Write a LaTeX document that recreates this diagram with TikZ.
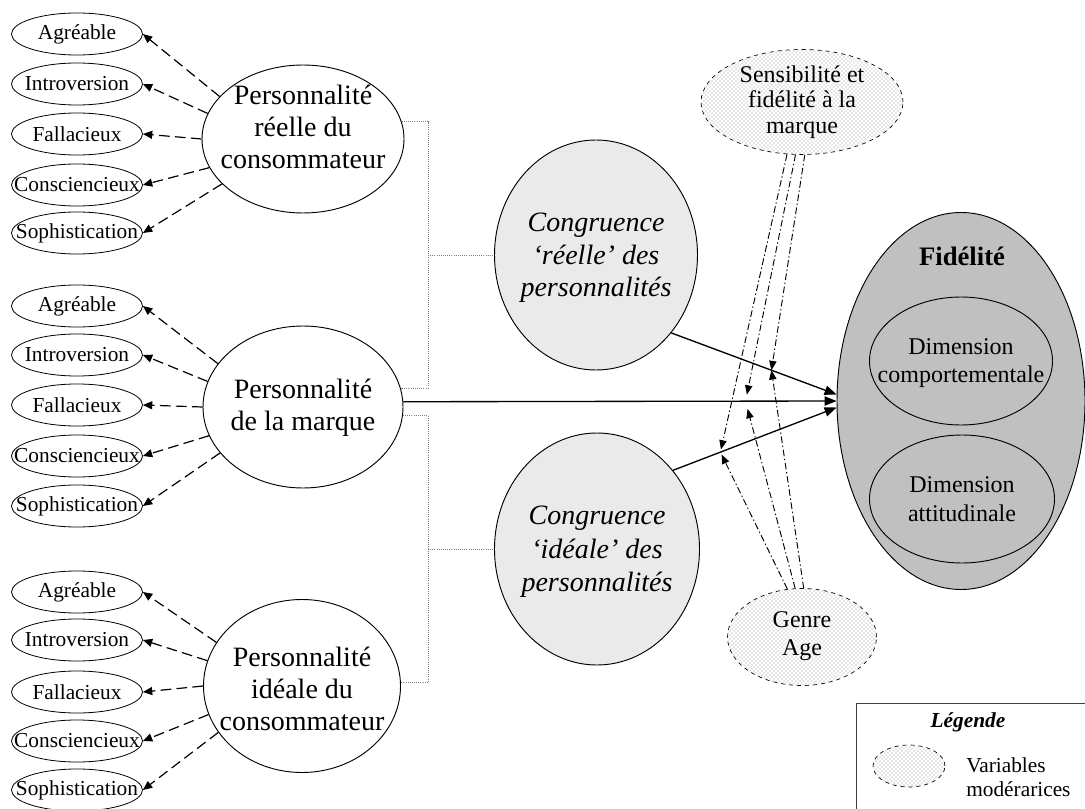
\documentclass[tikz,border=0pt]{standalone}
\usepackage{fontspec}
\setmainfont{Liberation Serif}
\usetikzlibrary{shapes.geometric,arrows.meta,patterns}
\newcommand{\pxx}[1]{#1*0.75pt}
\definecolor{cfill}{HTML}{EAEAEA}
\definecolor{ffill}{HTML}{C0C0C0}
\begin{document}
\begin{tikzpicture}[x=0.75pt,y=-0.75pt,
 small/.style={ellipse,draw,line width=0.6pt,inner sep=0pt,minimum width=\pxx{131},minimum height=\pxx{42}},
 stxt/.style={font=\fontsize{16}{18}\selectfont,inner sep=0pt},
 big/.style={ellipse,draw,line width=0.7pt,inner sep=0pt},
 btxt/.style={font=\fontsize{21}{24}\selectfont,align=center,inner sep=0pt},
 dtxt/.style={font=\fontsize{18}{21.5}\selectfont,align=center,inner sep=0pt},
 mtxt/.style={font=\fontsize{18}{19}\selectfont,align=center,inner sep=0pt},
 darr/.style={line width=0.9pt,dash pattern=on 8pt off 4pt,-{Triangle[length=7pt,width=6pt]}},
 solidarr/.style={line width=1pt,-{Triangle[length=9pt,width=7pt]}},
 brk/.style={gray,line width=0.6pt,densely dotted},
 modarr/.style={line width=0.7pt,dash pattern=on 5pt off 2pt on 1pt off 2pt,-{Triangle[length=7pt,width=5.5pt]}},
 mod/.style={ellipse,draw,dashed,line width=0.5pt,pattern=crosshatch dots,pattern color=gray!80,inner sep=0pt},
]
\useasboundingbox (0,0) rectangle (1085,809);

% Fidelite
\node[big,fill=ffill,minimum width=\pxx{248},minimum height=\pxx{377}] (fid) at (961,401) {};
\node[font=\fontsize{20}{24}\selectfont\bfseries,inner sep=0pt] (fidt) at (962,256) {Fidélité};
\node[big,fill=ffill,minimum width=\pxx{183},minimum height=\pxx{128}] (dc) at (961,361) {};
\node[dtxt] (dct) at (961,363) {Dimension\\comportementale};
\node[big,fill=ffill,minimum width=\pxx{185},minimum height=\pxx{128}] (da) at (962,499) {};
\node[dtxt] (dat) at (962,499) {Dimension\\attitudinale};

% big personality ellipses
\node[big,minimum width=\pxx{202},minimum height=\pxx{148}] (p1) at (303,139) {};
\node[btxt] (p1t) at (303,127) {Personnalité\\réelle du\\consommateur};
\node[big,minimum width=\pxx{200},minimum height=\pxx{162}] (p2) at (303,407) {};
\node[btxt] (p2t) at (303,408) {Personnalité\\de la marque};
\node[big,minimum width=\pxx{197},minimum height=\pxx{173}] (p3) at (302,686) {};
\node[btxt] (p3t) at (302,689) {Personnalité\\idéale du\\consommateur};

% congruence
\node[big,fill=cfill,minimum width=\pxx{203},minimum height=\pxx{230}] (cr) at (596,255) {};
\node[btxt,font=\fontsize{21}{24.5}\selectfont\itshape] (crt) at (596,258) {Congruence\\‘réelle’ des\\personnalités};
\node[big,fill=cfill,minimum width=\pxx{205},minimum height=\pxx{232}] (ci) at (597,549) {};
\node[btxt,font=\fontsize{21}{25}\selectfont\itshape] (cit) at (597,552) {Congruence\\‘idéale’ des\\personnalités};

% small ellipses and dashed arrows
\foreach \g/\ya/\yb/\yc/\yd/\ye in {1/34/84/134/185/233, 2/306/355/405/456/506, 3/592/640/692/741/790}{
  \foreach \i/\y/\t/\ang in {a/\ya/Agréable/153, b/\yb/Introversion/165, c/\yc/Fallacieux/180, d/\yd/Consciencieux/197, e/\ye/Sophistication/209}{
    \node[small] (s\g\i) at (77,\y) {};
    \node[stxt] (s\g\i t) at (77,\y) {\t};
    \draw[darr] (p\g.\ang) -- (s\g\i.east);
  }
}

% dotted brackets
\coordinate (bx) at (428,0);
\draw[brk] (p1.10) -- (p1.10 -| bx) -- (p2.11 -| bx) -- (p2.11);
\draw[brk] (cr.west -| bx) -- (cr.west);
\draw[brk] (p2.-5) -- (p2.-5 -| bx) -- (p3.2 -| bx) -- (p3.2);
\draw[brk] (ci.west -| bx) -- (ci.west);

% solid arrows to Fidelite
\draw[solidarr] (cr.-46) -- coordinate[pos=0.606] (mA) (fid.177);
\draw[solidarr] (p2.3) -- coordinate[pos=0.79] (mB) (fid.west);
\draw[solidarr] (ci.46) -- coordinate[pos=0.29] (mC) (fid.183);

% moderators
\node[mod,minimum width=\pxx{202},minimum height=\pxx{105}] (sens) at (802,102) {};
\node[mtxt] (senst) at (802,102) {Sensibilité et\\fidélité à la\\marque};
\node[mod,minimum width=\pxx{149},minimum height=\pxx{97}] (genre) at (802,637) {};
\node[font=\fontsize{18}{21}\selectfont,align=center,inner sep=0pt] (genret) at (802,636) {Genre\\Age};

\draw[modarr] (sens.-87) -- (mA);
\draw[modarr,shorten >=5pt] (sens.-97) -- (mB);
\draw[modarr,shorten >=2pt] (sens.-106) -- (mC);
\draw[modarr] (genre.88) -- (mA);
\draw[modarr,shorten >=6pt] (genre.98) -- (mB);
\draw[modarr,shorten >=2pt] (genre.107) -- (mC);

% legend
\node[draw=black!75,line width=0.7pt,minimum width=\pxx{240},minimum height=\pxx{115},anchor=north west,inner sep=0pt] (leg) at (856,703) {};
\node[font=\fontsize{16}{18}\selectfont\bfseries\itshape,inner sep=0pt] (legt) at (968,722) {Légende};
\node[mod,minimum width=\pxx{72},minimum height=\pxx{42}] (legm) at (909,766) {};
\node[stxt,align=left,anchor=west] (legtx) at (966,777) {Variables\\modérarices};
\end{tikzpicture}
\end{document}
